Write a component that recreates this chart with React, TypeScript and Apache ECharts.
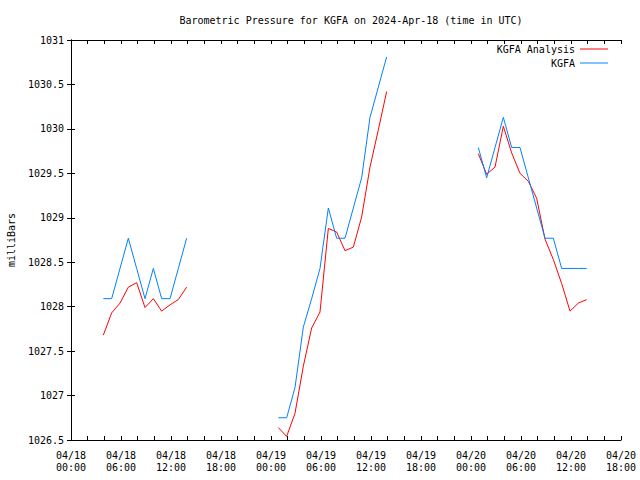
import React, { useEffect, useRef } from "react";
import * as echarts from "echarts";

// Hours since 2024-04-18 00:00 UTC (observations at HH:53). 19 and 43 mark data gaps.
const hours = [
  3.88, 4.88, 5.88, 6.88, 7.88, 8.88, 9.88, 10.88, 11.88, 12.88, 13.88,
  19,
  24.88, 25.88, 26.88, 27.88, 28.88, 29.88, 30.88, 31.88, 32.88, 33.88, 34.88, 35.88, 36.88, 37.88,
  43,
  48.88, 49.88, 50.88, 51.88, 52.88, 53.88, 54.88, 55.88, 56.88, 57.88, 58.88, 59.88, 60.88, 61.88,
];

const analysisValues: (number | null)[] = [
  1027.68, 1027.93, 1028.04, 1028.22, 1028.27, 1027.99, 1028.09, 1027.95, 1028.02, 1028.08, 1028.22,
  null,
  1026.64, 1026.54, 1026.8, 1027.33, 1027.76, 1027.94, 1028.88, 1028.84, 1028.63, 1028.67, 1029.01, 1029.57, 1029.99, 1030.42,
  null,
  1029.72, 1029.49, 1029.57, 1030.03, 1029.73, 1029.5, 1029.41, 1029.22, 1028.76, 1028.53, 1028.26, 1027.95, 1028.04, 1028.08,
];

const kgfaValues: (number | null)[] = [
  1028.09, 1028.09, 1028.43, 1028.77, 1028.43, 1028.09, 1028.43, 1028.09, 1028.09, 1028.43, 1028.77,
  null,
  1026.75, 1026.75, 1027.09, 1027.77, 1028.09, 1028.43, 1029.11, 1028.77, 1028.77, 1029.11, 1029.45, 1030.13, 1030.47, 1030.81,
  null,
  1029.79, 1029.45, 1029.79, 1030.13, 1029.79, 1029.79, 1029.45, 1029.11, 1028.77, 1028.77, 1028.43, 1028.43, 1028.43, 1028.43,
];

const xTickLabels = [
  "04/18\n00:00", "04/18\n06:00", "04/18\n12:00", "04/18\n18:00",
  "04/19\n00:00", "04/19\n06:00", "04/19\n12:00", "04/19\n18:00",
  "04/20\n00:00", "04/20\n06:00", "04/20\n12:00", "04/20\n18:00",
];

const titleText = "Barometric Pressure for KGFA on 2024-Apr-18 (time in UTC)";
const yAxisName = "milliBars";
const seriesNames = ["KGFA Analysis", "KGFA"];

export default function App() {
  const ref = useRef<HTMLDivElement>(null);
  useEffect(() => {
    if (!ref.current) return;
    const chart = echarts.init(ref.current, null, { renderer: "svg" });
    const font = "DejaVu Sans Mono";
    const toData = (vals: (number | null)[]) =>
      hours.map((h, i) => [h, vals[i] === null ? "-" : vals[i]]);
    const axisLine = { show: true, lineStyle: { color: "#000", width: 1 } };
    const tick = { show: true, inside: true, length: 4, lineStyle: { color: "#000", width: 1 } };
    chart.setOption({
      animation: false,
      backgroundColor: "#ffffff",
      textStyle: { fontFamily: font },
      title: {
        text: titleText,
        left: 346,
        top: 10,
        textAlign: "center",
        textStyle: { fontSize: 10, fontWeight: "normal", color: "#000", fontFamily: font },
      },
      legend: {
        orient: "vertical",
        align: "right",
        right: 27,
        top: 38,
        itemWidth: 28,
        itemHeight: 1,
        itemGap: 2,
        icon: "rect",
        data: seriesNames,
        textStyle: { fontSize: 10, color: "#000", fontFamily: font, lineHeight: 12 },
      },
      grid: {
        left: 71,
        top: 40,
        width: 550,
        height: 400,
        containLabel: false,
        outerBoundsMode: "none",
      },
      xAxis: [
        {
          type: "value",
          min: 0,
          max: 66,
          interval: 2,
          position: "bottom",
          axisLine,
          axisTick: tick,
          splitLine: { show: false },
          axisLabel: {
            formatter: (v: number) => (v % 6 === 0 ? xTickLabels[v / 6] : ""),
            fontSize: 10,
            lineHeight: 12,
            color: "#000",
            fontFamily: font,
            margin: 9,
          },
        },
        {
          type: "value",
          min: 0,
          max: 66,
          interval: 2,
          position: "top",
          axisLine,
          axisTick: tick,
          splitLine: { show: false },
          axisLabel: { show: false },
        },
      ],
      yAxis: [
        {
          type: "value",
          min: 1026.5,
          max: 1031,
          interval: 0.5,
          position: "left",
          name: yAxisName,
          nameLocation: "middle",
          nameGap: 53,
          nameRotate: 90,
          nameTextStyle: { fontSize: 10, color: "#000", fontFamily: font },
          axisLine,
          axisTick: tick,
          splitLine: { show: false },
          axisLabel: {
            fontSize: 10,
            color: "#000",
            fontFamily: font,
            margin: 7,
            formatter: (v: number) => String(Math.round(v * 10) / 10),
          },
        },
        {
          type: "value",
          min: 1026.5,
          max: 1031,
          interval: 0.5,
          position: "right",
          axisLine,
          axisTick: tick,
          splitLine: { show: false },
          axisLabel: { show: false },
        },
      ],
      series: [
        {
          name: seriesNames[0],
          type: "line",
          xAxisIndex: 0,
          yAxisIndex: 0,
          data: toData(analysisValues),
          symbol: "none",
          showSymbol: false,
          connectNulls: false,
          color: "#ff0000",
          lineStyle: { color: "#ff0000", width: 1 },
        },
        {
          name: seriesNames[1],
          type: "line",
          xAxisIndex: 0,
          yAxisIndex: 0,
          data: toData(kgfaValues),
          symbol: "none",
          showSymbol: false,
          connectNulls: false,
          color: "#0080ff",
          lineStyle: { color: "#0080ff", width: 1 },
        },
      ],
    });
    return () => chart.dispose();
  }, []);
  return (
    <div
      ref={ref}
      style={{ position: "absolute", left: 0, top: 0, width: 640, height: 480 }}
    />
  );
}
